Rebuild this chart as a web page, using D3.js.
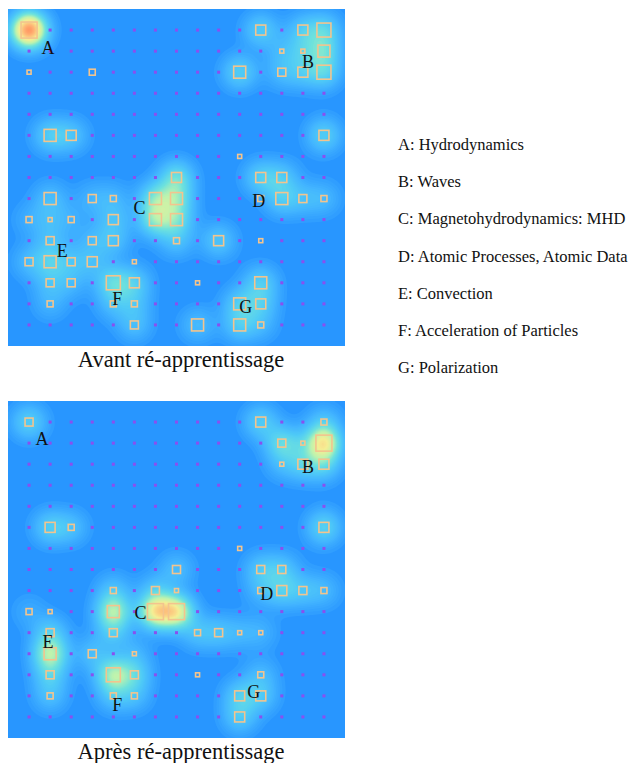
<!DOCTYPE html>
<html>
<head>
<meta charset="utf-8">
<script src="https://cdn.jsdelivr.net/npm/d3@7"></script>
<style>
  body { margin: 0; background: #fff; }
  svg { display: block; }
  text { font-family: "Liberation Serif", "Times New Roman", serif; }
</style>
</head>
<body>
<svg width="635" height="763"></svg>
<script>
// 15x15 map, each unit: [col, row, hits]
const gridSize = 15;

const hitsBefore = [
  [0,0,7], [11,0,4], [13,0,4], [14,0,6],
  [12,1,1], [13,1,1], [14,1,5],
  [0,2,1], [3,2,2], [10,2,5], [12,2,3], [13,2,4], [14,2,6],
  [1,5,5], [2,5,4], [14,5,4],
  [10,6,1],
  [7,7,4], [11,7,4], [12,7,4],
  [1,8,5], [3,8,3], [4,8,2], [6,8,5], [7,8,5], [11,8,2], [12,8,5], [13,8,3], [14,8,2],
  [0,9,2], [1,9,1], [2,9,2], [4,9,4], [6,9,5], [7,9,5],
  [1,10,3], [3,10,3], [4,10,4], [7,10,2], [9,10,4], [11,10,1],
  [0,11,3], [1,11,5], [2,11,3], [3,11,4], [5,11,1],
  [1,12,3], [2,12,3], [4,12,6], [5,12,4], [8,12,1], [11,12,5],
  [1,13,2], [4,13,2], [5,13,2], [10,13,5], [11,13,4],
  [5,14,3], [8,14,5], [10,14,5], [11,14,2]
];

const hitsAfter = [
  [0,0,3], [11,0,4], [14,0,2],
  [12,1,3], [13,1,1], [14,1,7],
  [12,2,1], [13,2,4], [14,2,4],
  [1,5,4], [2,5,2], [14,5,4],
  [10,6,1],
  [7,7,3], [11,7,3], [12,7,3],
  [4,8,2], [6,8,3], [7,8,1], [11,8,2], [12,8,4], [13,8,3], [14,8,2],
  [0,9,2], [1,9,1], [4,9,5], [6,9,7], [7,9,7],
  [1,10,3], [4,10,3], [8,10,2], [9,10,3], [10,10,1], [11,10,1],
  [1,11,5], [3,11,3], [5,11,1],
  [1,12,3], [4,12,6], [5,12,3], [8,12,1], [11,12,2],
  [1,13,2], [4,13,2], [5,13,2], [10,13,4], [11,13,4],
  [10,14,4]
];

// density of the background map: [col, row, weight]
const heatBefore = [
  [0,0,2.0],
  [11,0,0.45], [13,0,0.35], [14,0,0.5], [14,1,0.55], [14,2,0.5], [13,1,0.3], [12,1,0.2], [13,2,0.3], [12,2,0.25], [10,2,0.5],
  [1,5,0.45], [2,5,0.35], [14,5,0.5],
  [7,7,0.65], [6,8,0.65], [7,8,0.6], [6,9,0.75], [7,9,0.55], [7,10,0.3],
  [11,7,0.45], [12,7,0.35], [12,8,0.4], [13,8,0.25], [14,8,0.25],
  [1,8,0.3], [0,9,0.15], [1,9,0.2], [2,9,0.15], [1,10,0.25], [0,11,0.25], [1,11,0.4], [2,11,0.25],
  [3,11,0.25], [1,12,0.25], [2,12,0.2], [1,13,0.2], [3,10,0.2], [4,9,0.3], [4,10,0.3], [3,8,0.2], [4,8,0.2],
  [4,12,0.6], [5,12,0.4], [4,13,0.25], [5,13,0.25], [5,14,0.3],
  [11,12,0.45], [10,13,0.4], [11,13,0.35], [10,14,0.4], [11,14,0.2],
  [9,10,0.4], [8,14,0.3]
];

const heatAfter = [
  [0,0,0.5],
  [11,0,0.45], [12,1,0.6], [13,1,0.2], [14,1,1.3], [14,0,0.3], [14,2,0.45], [13,2,0.4], [12,2,0.2],
  [14,5,0.55], [1,5,0.45], [2,5,0.3],
  [7,7,0.3], [11,7,0.35], [12,7,0.35], [12,8,0.4], [13,8,0.3], [14,8,0.25], [11,8,0.2],
  [6,9,1.25], [7,9,1.25], [6,8,0.3], [4,9,0.95], [4,8,0.3], [4,10,0.35],
  [8,10,0.3], [9,10,0.3], [10,10,0.2], [11,10,0.2],
  [1,11,0.95], [1,10,0.4], [1,12,0.4], [1,13,0.3], [0,9,0.15],
  [4,12,0.9], [5,12,0.45], [4,13,0.3], [5,13,0.25], [3,11,0.3], [5,11,0.2],
  [10,13,0.4], [11,13,0.35], [10,14,0.4], [11,12,0.25]
];

const labelsBefore = [
  ['A',0.9,0.86], ['B',13.24,1.48], ['C',5.24,8.43], ['D',10.9,8.1],
  ['E',1.57,10.48], ['F',4.19,12.76], ['G',10.29,13.14]
];
const labelsAfter = [
  ['A',0.62,0.81], ['B',13.24,2.14], ['C',5.29,9.05], ['D',11.29,8.14],
  ['E',0.9,10.43], ['F',4.19,13.43], ['G',10.67,12.81]
];

const legendItems = [
  'A: Hydrodynamics',
  'B: Waves',
  'C: Magnetohydrodynamics: MHD',
  'D: Atomic Processes, Atomic Data',
  'E: Convection',
  'F: Acceleration of Particles',
  'G: Polarization'
];

const captions = ['Avant ré-apprentissage', 'Après ré-apprentissage'];

const svg = d3.select('svg');
const bg = '#2896ff';
const left = 8;
const size = 337;

const heatColor = d3.scaleLinear()
  .domain([0, 0.1, 0.25, 0.5, 0.8, 1.1, 1.45, 1.85, 2.3])
  .range(['#2896ff', '#34a2ff', '#42b4ff', '#50cbf6', '#6ee2dc', '#bdf3ae', '#f6ee94', '#ffb274', '#ff6a44'])
  .clamp(true);

const sideScale = d3.scaleLinear().domain([1, 7]).range([4, 16]);

function drawPanel(top, hits, heat, labels, caption, idx) {
  const x = d3.scaleLinear().domain([-1, gridSize]).range([0, size]);
  const y = d3.scaleLinear().domain([-1, gridSize]).range([0, size]);

  const g = svg.append('g').attr('transform', 'translate(' + left + ',' + top + ')');

  g.append('clipPath').attr('id', 'clip' + idx)
    .append('rect').attr('width', size).attr('height', size);

  g.append('rect').attr('width', size).attr('height', size).attr('fill', bg);

  // smoothed density field
  const res = 2;
  const n = Math.ceil(size / res) + 1;
  const sigma = 12;
  const values = new Float64Array(n * n);
  for (let j = 0; j < n; j++) {
    for (let i = 0; i < n; i++) {
      const px = (i + 0.5) * res, py = (j + 0.5) * res;
      let s = 0;
      heat.forEach(d => {
        const dx = px - x(d[0]), dy = py - y(d[1]);
        s += d[2] * Math.exp(-(dx * dx + dy * dy) / (2 * sigma * sigma));
      });
      values[j * n + i] = s;
    }
  }
  const levels = d3.range(0.05, 2.6, 0.035);
  const contours = d3.contours().size([n, n]).thresholds(levels)(values);

  g.append('g')
    .attr('clip-path', 'url(#clip' + idx + ')')
    .selectAll('path')
    .data(contours)
    .join('path')
    .attr('d', d3.geoPath(d3.geoIdentity().scale(res)))
    .attr('fill', d => heatColor(d.value + 0.02));

  // empty units
  const used = new Set(hits.map(d => d[0] + ',' + d[1]));
  const empty = [];
  for (let r = 0; r < gridSize; r++)
    for (let c = 0; c < gridSize; c++)
      if (!used.has(c + ',' + r)) empty.push([c, r]);

  g.append('g').selectAll('rect')
    .data(empty)
    .join('rect')
    .attr('x', d => x(d[0]) - 1.5)
    .attr('y', d => y(d[1]) - 1.5)
    .attr('width', 3)
    .attr('height', 3)
    .attr('fill', '#8a4ff0');

  g.append('g').selectAll('rect')
    .data(hits)
    .join('rect')
    .attr('x', d => x(d[0]) - sideScale(d[2]) / 2)
    .attr('y', d => y(d[1]) - sideScale(d[2]) / 2)
    .attr('width', d => sideScale(d[2]))
    .attr('height', d => sideScale(d[2]))
    .attr('fill', 'none')
    .attr('stroke', '#f3c48e')
    .attr('stroke-width', 1.6);

  g.append('g').selectAll('text')
    .data(labels)
    .join('text')
    .attr('x', d => x(d[1]))
    .attr('y', d => y(d[2]))
    .attr('dy', '0.35em')
    .attr('text-anchor', 'middle')
    .attr('font-size', 18)
    .attr('fill', '#111')
    .text(d => d[0]);

  svg.append('text')
    .attr('x', left + size / 2 + 4.5)
    .attr('y', top + size + 21)
    .attr('text-anchor', 'middle')
    .attr('font-size', 22.5)
    .attr('fill', '#111')
    .text(caption);
}

drawPanel(9, hitsBefore, heatBefore, labelsBefore, captions[0], 0);
drawPanel(401, hitsAfter, heatAfter, labelsAfter, captions[1], 1);

const ly = d3.scaleLinear().domain([0, legendItems.length - 1]).range([150, 373]);
svg.append('g').selectAll('text')
  .data(legendItems)
  .join('text')
  .attr('x', 398)
  .attr('y', (d, i) => ly(i))
  .attr('font-size', 16.5)
  .attr('fill', '#111')
  .text(d => d);
</script>
</body>
</html>
